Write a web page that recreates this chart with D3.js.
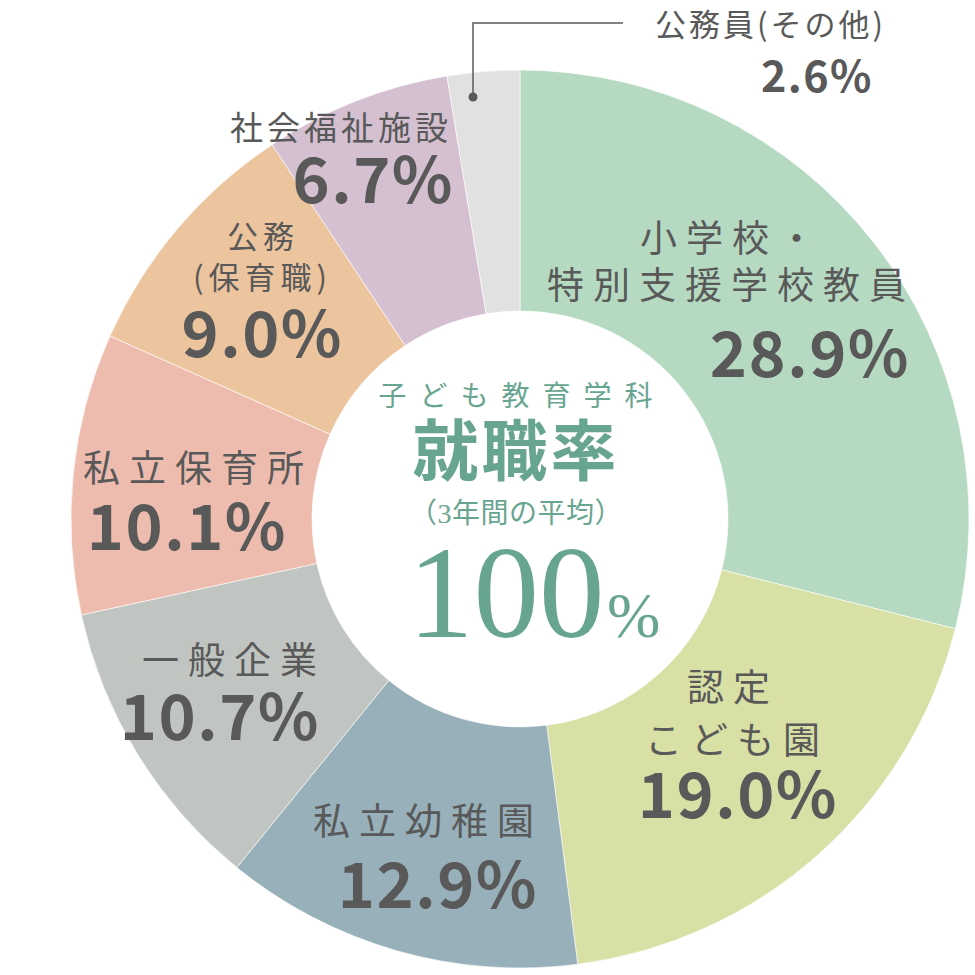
<!DOCTYPE html>
<html>
<head>
<meta charset="utf-8">
<script src="https://cdn.jsdelivr.net/npm/d3@7"></script>
<style>
  html, body { margin: 0; padding: 0; background: #fff; }
  svg { display: block; }
  .name { font-family: "Noto Sans CJK JP", "Noto Sans", sans-serif; fill: #595959; font-weight: 400; }
  .pct { font-family: "Noto Sans CJK JP", "Noto Sans", sans-serif; fill: #595959; font-weight: 700; }
  .ctr { font-family: "Liberation Serif", "DejaVu Serif", "Noto Sans CJK JP", serif; fill: #68a590; }
</style>
</head>
<body>
<svg id="chart" width="975" height="975"></svg>
<script>
// ---- data ----
const categories = ["小学校・特別支援学校教員", "認定こども園", "私立幼稚園", "一般企業", "私立保育所", "公務(保育職)", "社会福祉施設", "公務員(その他)"];
const values = [28.9, 19.0, 12.9, 10.7, 10.1, 9.0, 6.7, 2.6];
const labelLines = [["小学校・", "特別支援学校教員"], ["認定", "こども園"], ["私立幼稚園"], ["一般企業"], ["私立保育所"], ["公務", "(保育職)"], ["社会福祉施設"], ["公務員(その他)"]];
const colors = ["#b5dac1", "#d8e0a6", "#98b0b9", "#c0c5c1", "#eebcae", "#ecc49d", "#d5c0d1", "#e0e1e0"];
const centerTitle = "子ども教育学科";
const centerHeading = "就職率";
const centerSub = "（3年間の平均）";
const centerValue = "100";

// ---- layout (positions only) ----
const cx = 520, cy = 519, rOuter = 449, rInner = 208;
const labelLayout = [
  { lines: [[640, 236, 37, 9], [547, 283, 37, 9]], pct: [910, 377] },
  { lines: [[687, 685, 37, 9], [645, 738, 37, 9]], pct: [838, 818] },
  { lines: [[313, 819, 37, 9]], pct: [538, 908] },
  { lines: [[142, 658, 37, 9]], pct: [320, 740] },
  { lines: [[83, 466, 37, 9]], pct: [287, 550] },
  { lines: [[227, 234, 31, 5], [193, 275, 31, 5]], pct: [343, 357] },
  { lines: [[230, 126, 33, 4]], pct: [454, 203] },
  { lines: [[655, 22, 31, 3]], pct: [873, 92], pctSize: 43 }
];
const leader = { dot: [473, 97], elbowY: 23, endX: 623 };

const svg = d3.select("#chart");
const g = svg.append("g").attr("transform", `translate(${cx},${cy})`);

const pie = d3.pie().sort(null).value(d => d).startAngle(0).endAngle(2 * Math.PI);
const arcs = pie(values);
const arc = d3.arc().innerRadius(rInner).outerRadius(rOuter);

g.selectAll("path.slice")
  .data(arcs)
  .join("path")
  .attr("class", "slice")
  .attr("d", arc)
  .attr("fill", (d, i) => colors[i])
  .attr("stroke", "#ffffff")
  .attr("stroke-width", 0.6);

// labels
arcs.forEach((a, i) => {
  const L = labelLayout[i];
  labelLines[i].forEach((t, j) => {
    const [x, y, fs, ls] = L.lines[j];
    svg.append("text").attr("class", "name")
      .attr("x", x).attr("y", y)
      .attr("dominant-baseline", "central")
      .style("font-size", fs + "px")
      .style("letter-spacing", ls + "px")
      .text(t);
  });
  const [px, py] = L.pct;
  svg.append("text").attr("class", "pct")
    .attr("x", px).attr("y", py)
    .attr("text-anchor", "end")
    .style("font-size", (L.pctSize || 63) + "px")
    .style("letter-spacing", "1.5px")
    .text(d3.format(".1f")(values[i]) + "%");
});

// leader line for the small slice
svg.append("path")
  .attr("d", `M${leader.dot[0]},${leader.dot[1]} V${leader.elbowY} H${leader.endX}`)
  .attr("fill", "none").attr("stroke", "#595959").attr("stroke-width", 1.5);
svg.append("circle").attr("cx", leader.dot[0]).attr("cy", leader.dot[1]).attr("r", 4.5).attr("fill", "#595959");

// center texts
svg.append("text").attr("class", "ctr")
  .attr("x", cx + 2).attr("y", 396).attr("text-anchor", "middle")
  .attr("dominant-baseline", "central")
  .style("font-size", "28px").style("letter-spacing", "13px")
  .text(centerTitle);
svg.append("text").attr("class", "ctr")
  .attr("x", cx - 4).attr("y", 452).attr("text-anchor", "middle")
  .attr("dominant-baseline", "central")
  .style("font-size", "66px").style("font-weight", "700").style("letter-spacing", "3px")
  .text(centerHeading);
svg.append("text").attr("class", "ctr")
  .attr("x", cx - 4).attr("y", 513).attr("text-anchor", "middle")
  .attr("dominant-baseline", "central")
  .style("font-size", "28px").style("letter-spacing", "0.5px")
  .text(centerSub);
svg.append("text").attr("class", "ctr")
  .attr("x", 408).attr("y", 637)
  .style("font-size", "131px")
  .text(centerValue);
svg.append("text").attr("class", "ctr")
  .attr("x", 607).attr("y", 637)
  .style("font-size", "64px")
  .text("%");
</script>
</body>
</html>
